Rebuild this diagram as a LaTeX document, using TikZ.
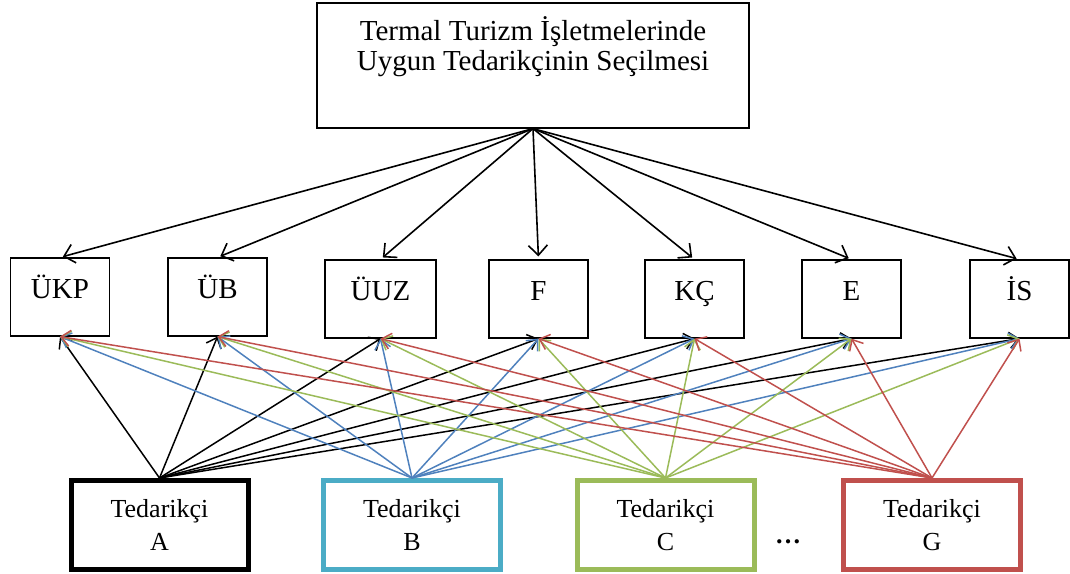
\documentclass[tikz,border=0pt]{standalone}
\usepackage{fontspec}
\setmainfont{Liberation Serif}
\usetikzlibrary{arrows.meta}

\definecolor{boxblue}{HTML}{4BACC6}
\definecolor{lineblue}{HTML}{4F81BD}
\definecolor{boxgreen}{HTML}{9BBB59}
\definecolor{boxred}{HTML}{C0504D}

\begin{document}
\begin{tikzpicture}[x=1pt, y=-1pt,
    goalbox/.style={draw, line width=1.2pt, minimum width=432pt, inner sep=0pt, align=center,
        font=\fontsize{29}{29.5}\selectfont, text height=67.3pt, text depth=57.7pt},
    critbox/.style={draw, line width=1.2pt, minimum width=99pt, inner sep=0pt,
        font=\fontsize{29}{34}\selectfont, text height=40.5pt, text depth=37.5pt},
    supbox/.style={draw=#1, line width=5pt, minimum width=177pt, minimum height=89pt, align=center,
        font=\fontsize{26}{32.5}\selectfont},
    toparrow/.style={line width=1.6pt, -{Straight Barb[length=10pt, width=19pt, line width=1.6pt]}, shorten >=3pt},
    link/.style={line width=1.5pt, -{Straight Barb[length=9pt, width=16pt, line width=1.5pt]}}]

    \useasboundingbox (0,0) rectangle (1070,573);

    % goal on top
    \node[goalbox] (goal) at (533,65.5) {Termal Turizm İşletmelerinde\\Uygun Tedarikçinin Seçilmesi};

    % criteria
    \node[critbox] (ukp) at (60,297)    {ÜKP};
    \node[critbox] (ub)  at (217.5,297) {ÜB};
    \node[critbox, minimum width=111pt] (uuz) at (380.5,299) {ÜUZ};
    \node[critbox] (f)   at (538.5,299) {F};
    \node[critbox] (kc)  at (694.5,299) {KÇ};
    \node[critbox] (e)   at (851.5,299) {E};
    \node[critbox] (is)  at (1019.5,299) {İS};

    % suppliers
    \node[supbox=black]    (sa) at (159.5,525) {Tedarikçi\\A};
    \node[supbox=boxblue]  (sb) at (412,525)   {Tedarikçi\\B};
    \node[supbox=boxgreen] (sc) at (665.5,525) {Tedarikçi\\C};
    \node[supbox=boxred]   (sg) at (932,525)   {Tedarikçi\\G};
    \node[font=\fontsize{26}{30}\selectfont\bfseries] (dots) at (788,542) {\ldots};

    % goal -> criteria
    \foreach \c in {ukp,ub,uuz,f,kc,e,is}
        \draw[toparrow] (goal.south) -- (\c.north);

    % suppliers -> criteria
    \foreach \s/\col in {sa/black, sb/lineblue, sc/boxgreen, sg/boxred}
        \foreach \c in {ukp,ub,uuz,f,kc,e,is}
            \draw[link, \col] (\s.north) -- (\c.south);

\end{tikzpicture}
\end{document}
